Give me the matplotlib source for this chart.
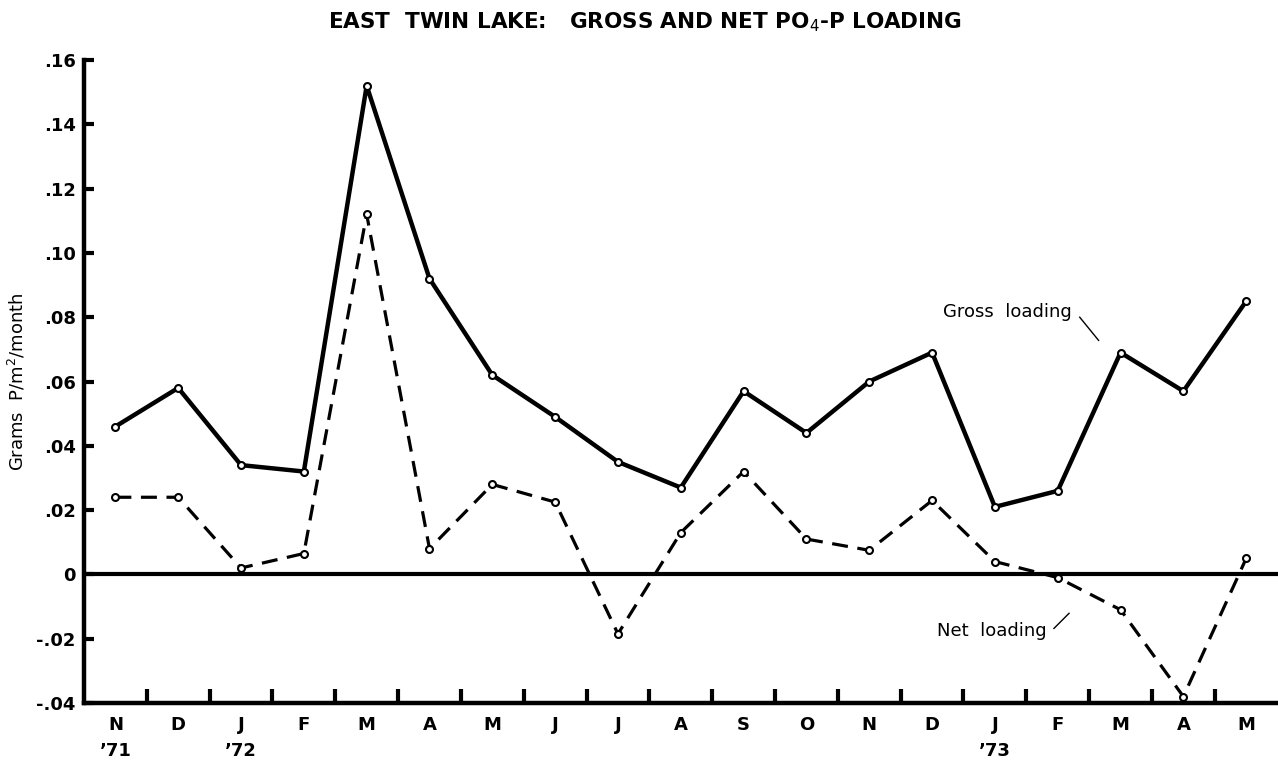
import matplotlib.pyplot as plt
from matplotlib.ticker import FixedLocator, FuncFormatter

# ---- data (Nov 1971 - May 1973) ----
months = ["N", "D", "J", "F", "M", "A", "M", "J", "J", "A", "S", "O", "N", "D", "J", "F", "M", "A", "M"]
years = {0: "’71", 2: "’72", 14: "’73"}
gross = [0.046, 0.058, 0.034, 0.032, 0.152, 0.092, 0.062, 0.049, 0.035, 0.027,
         0.057, 0.044, 0.060, 0.069, 0.021, 0.026, 0.069, 0.057, 0.085]
net = [0.024, 0.024, 0.002, 0.0065, 0.112, 0.008, 0.028, 0.0225, -0.0185, 0.013,
       0.032, 0.011, 0.0075, 0.023, 0.004, -0.001, -0.011, -0.038, 0.005]
yticks = [-0.04, -0.02, 0, 0.02, 0.04, 0.06, 0.08, 0.10, 0.12, 0.14, 0.16]

x = list(range(len(months)))

fig = plt.figure(figsize=(12.78, 7.60), dpi=100)
ax = fig.add_axes([0.0657, 0.075, 0.934, 0.846])

# ---- series ----
ax.plot(x, gross, color="black", lw=3.2, solid_joinstyle="round",
        marker="o", ms=5, mfc="white", mec="black", mew=1.5, zorder=3)
ax.plot(x, net, color="black", lw=2.3, linestyle=(0, (5, 3)),
        marker="o", ms=5, mfc="white", mec="black", mew=1.5, zorder=3)

# zero line
ax.axhline(0, color="black", lw=3, zorder=2)

ax.set_xlim(-0.5, 18.5)
ax.set_ylim(-0.04, 0.16)

# ---- axes styling ----
for s in ["top", "right"]:
    ax.spines[s].set_visible(False)
for s in ["left", "bottom"]:
    ax.spines[s].set_linewidth(3.2)

ax.yaxis.set_major_locator(FixedLocator(yticks))
ax.yaxis.set_major_formatter(FuncFormatter(
    lambda v, p: "0" if abs(v) < 1e-9 else ("-" if v < 0 else "") + f"{abs(v):.2f}"[1:]))
ax.tick_params(axis="y", direction="in", length=7, width=3, labelsize=13, pad=6)

# x: tick marks between months, labels at months
ax.xaxis.set_major_locator(FixedLocator([i + 0.5 for i in x[:-1]]))
ax.xaxis.set_major_formatter(FuncFormatter(lambda v, p: ""))
ax.xaxis.set_minor_locator(FixedLocator(x))
ax.xaxis.set_minor_formatter(FuncFormatter(
    lambda v, p: months[int(round(v))] + "\n" + years.get(int(round(v)), "")))
ax.tick_params(axis="x", which="major", direction="in", length=10, width=3)
ax.tick_params(axis="x", which="minor", length=0, labelsize=13, pad=9)
for lab in ax.get_xticklabels(minor=True):
    lab.set_fontweight("bold")
    lab.set_linespacing(1.6)
for lab in ax.get_yticklabels():
    lab.set_fontweight("bold")

ax.set_ylabel("Grams  P/m$^2$/month", fontsize=13, labelpad=6)

# ---- annotations ----
ax.text(14.2, 0.0815, "Gross  loading", fontsize=13, ha="center", va="center")
ax.plot([15.35, 15.65], [0.0800, 0.0728], color="black", lw=1)
ax.text(13.95, -0.0177, "Net  loading", fontsize=13, ha="center", va="center")
ax.plot([14.94, 15.18], [-0.0168, -0.0121], color="black", lw=1)

fig.text(0.505, 0.971, "EAST  TWIN LAKE:   GROSS AND NET PO$_4$-P LOADING",
         ha="center", va="center", fontsize=15.5, fontweight="bold")

fig.savefig("out.png", dpi=100)
